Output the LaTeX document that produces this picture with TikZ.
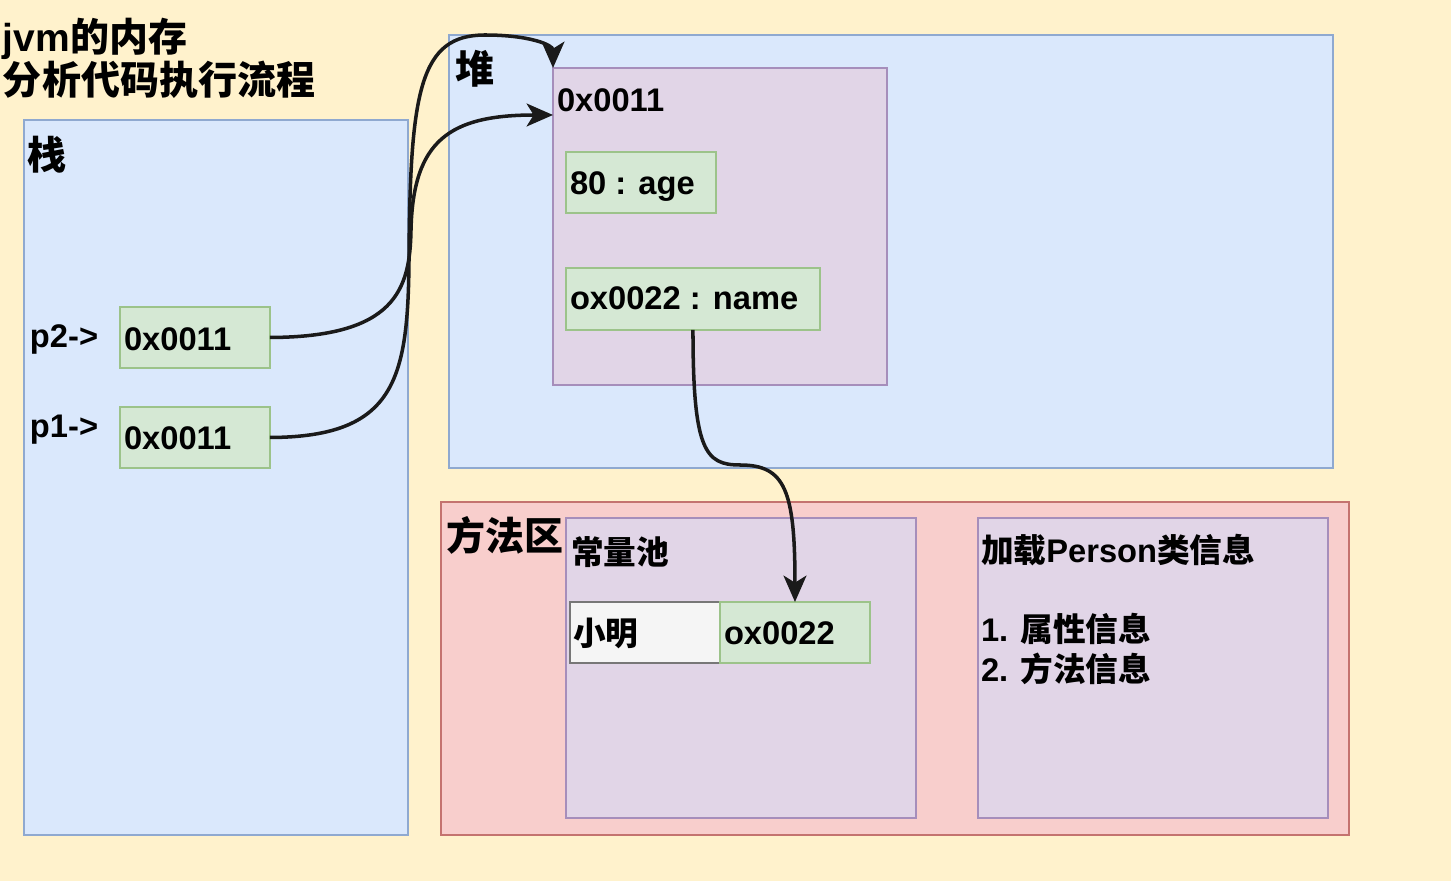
\documentclass[tikz,border=0pt]{standalone}
\usepackage{fontspec}
\setmainfont{Liberation Sans}
\newfontfamily\cjk{Noto Sans CJK SC}
\usetikzlibrary{arrows.meta,calc}
\definecolor{bgY}{HTML}{FFF2CC}
\definecolor{bluF}{HTML}{DAE8FC}\definecolor{bluD}{HTML}{8FA9D0}
\definecolor{grnF}{HTML}{D5E8D4}\definecolor{grnD}{HTML}{9CC38A}
\definecolor{purF}{HTML}{E1D5E7}\definecolor{purD}{HTML}{A68EBB}
\definecolor{redF}{HTML}{F8CECC}\definecolor{redD}{HTML}{C4736F}
\definecolor{gryF}{HTML}{F5F5F5}\definecolor{gryD}{HTML}{777777}
\definecolor{ink}{HTML}{1A1A1A}
\tikzset{
  box/.style={draw, line width=0.8pt, inner sep=0pt, outer sep=0pt, anchor=north west},
  bluebox/.style={box, fill=bluF, draw=bluD},
  greenbox/.style={box, fill=grnF, draw=grnD, minimum width=3cm, minimum height=1.22cm},
  purplebox/.style={box, fill=purF, draw=purD},
  redbox/.style={box, fill=redF, draw=redD},
  greybox/.style={box, fill=gryF, draw=gryD, minimum width=3cm, minimum height=1.22cm},
  txt/.style={anchor=base west, inner sep=0pt, outer sep=0pt, font=\fontsize{18.6}{22}\selectfont\bfseries, text=black},
  bigtxt/.style={txt, font=\fontsize{22.2}{26}\selectfont\bfseries},
  link/.style={draw=ink, line width=2pt, -{Stealth[length=15pt,width=13pt,inset=4pt]}}
}
\begin{document}
\begin{tikzpicture}[x=0.02cm,y=-0.02cm]
\fill[bgY] (0,0) rectangle (1451,881);
\useasboundingbox (0,0) rectangle (1451,881);
% title
\node[bigtxt] (t1) at (3,52) {jvm{\cjk 的内存}};
\node[bigtxt] (t2) at (3,95) {\cjk 分析代码执行流程};
% stack
\node[bluebox, minimum width=7.68cm, minimum height=14.3cm] (stack) at (24,120) {};
\node[bigtxt] (stacklbl) at (28,170) {\cjk 栈};
\node[greenbox] (p2box) at (120,307) {};
\node[greenbox] (p1box) at (120,407) {};
\node[txt] (p2lbl) at (30,348) {p2->};
\node[txt] (p1lbl) at (30,438) {p1->};
\node[txt] (p2val) at (124,351) {0x0011};
\node[txt] (p1val) at (124,450) {0x0011};
% heap
\node[bluebox, minimum width=17.68cm, minimum height=8.66cm] (heap) at (449,35) {};
\node[bigtxt] (heaplbl) at (455,84) {\cjk 堆};
\node[purplebox, minimum width=6.68cm, minimum height=6.34cm] (obj) at (553,68) {};
\node[txt] (objlbl) at (557,112) {0x0011};
\node[greenbox] (age) at (566,152) {};
\node[txt] (agelbl) at (570,195) {80 : age};
\node[greenbox, minimum width=5.08cm, minimum height=1.24cm] (name) at (566,268) {};
\node[txt] (namelbl) at (570,310) {ox0022 : name};
% method area
\node[redbox, minimum width=18.16cm, minimum height=6.66cm] (method) at (441,502) {};
\node[bigtxt] (methodlbl) at (446,551) {\cjk 方法区};
\node[purplebox, minimum width=7cm, minimum height=6cm] (pool) at (566,518) {};
\node[txt] (poollbl) at (571,565) {\cjk 常量池};
\node[greybox] (xm) at (570,602) {};
\node[greenbox] (ref) at (720,602) {};
\node[txt] (xmlbl) at (573,646) {\cjk 小明};
\node[txt] (reflbl) at (724,645) {ox0022};
\node[purplebox, minimum width=7cm, minimum height=6cm] (cls) at (978,518) {};
\node[txt] (clslbl) at (981,563) {{\cjk 加载}Person{\cjk 类信息}};
\node[txt] (cls1) at (981,642) {1. {\cjk 属性信息}};
\node[txt] (cls2) at (981,682) {2. {\cjk 方法信息}};
% connectors
\coordinate (objin) at ($(obj.north west)+(0,47)$);
\draw[link] (p2box.east) .. controls (395,337) and (410,290) .. (411,230)
  .. controls (413,140) and (450,115) .. (objin);
\draw[link] (p1box.east) .. controls (395,437) and (408,380) .. (409,260)
  .. controls (410,90) and (420,35) .. (485,35)
  .. controls (530,35) and (553,45) .. (obj.north west);
\draw[link] (name.south) .. controls (693,450) and (705,465) .. (740,465)
  .. controls (785,465) and (795,490) .. (ref.north);
\end{tikzpicture}
\end{document}
